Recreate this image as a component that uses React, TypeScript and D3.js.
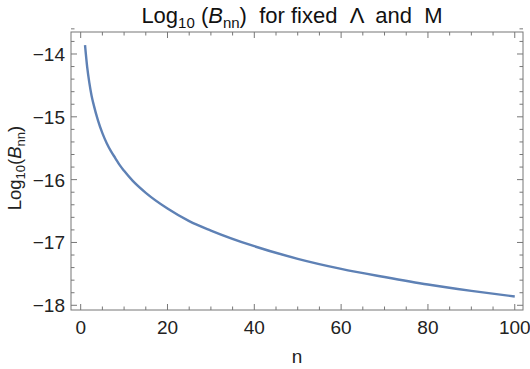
import React from "react";
import * as d3 from "d3";

const nValues = [1, 1.5, 2, 2.5, 3, 4, 5, 6, 7, 8, 9, 10, 12, 15, 20, 25, 30, 40, 50, 60, 70, 80, 90, 100];
const logB = [-13.86, -14.21, -14.46, -14.66, -14.81, -15.06, -15.26, -15.42, -15.55, -15.66, -15.77, -15.86, -16.02, -16.21, -16.46, -16.66, -16.81, -17.06, -17.26, -17.42, -17.55, -17.67, -17.77, -17.86];
const xTicks = [0, 20, 40, 60, 80, 100];
const yTicks = [-14, -15, -16, -17, -18];

const W = 530, H = 369;
const L = 71, R = 523, T = 32, B = 310;
const FONT = "'Liberation Sans', Arial, sans-serif";

export default function App() {
  const x = d3.scaleLinear().domain([-2.23, 101.9]).range([L, R]);
  const y = d3.scaleLinear().domain([-18.075, -13.65]).range([B, T]);
  const line = d3.line<number>().x((_, i) => x(nValues[i])).y((d) => y(d)).curve(d3.curveMonotoneX);
  const xMinor = d3.range(0, 101, 5);
  const yMinor = d3.range(-18, -13.5, 0.2).map((v) => Math.round(v * 10) / 10);
  const tc = "#777";
  const isMajorY = (v: number) => Math.abs(v - Math.round(v)) < 1e-6;
  return (
    <svg width={W} height={H} style={{ position: "absolute", left: 0, top: 0 }} fontFamily={FONT}>
      <rect width={W} height={H} fill="#fff" />
      {xMinor.map((v) => {
        const len = v % 20 === 0 ? 6 : 3.5;
        return (
          <g key={"x" + v} stroke={tc} strokeWidth={1}>
            <line x1={x(v)} x2={x(v)} y1={B} y2={B - len} />
            <line x1={x(v)} x2={x(v)} y1={T} y2={T + len} />
          </g>
        );
      })}
      {yMinor.map((v) => {
        const len = isMajorY(v) ? 6 : 3.5;
        return (
          <g key={"y" + v} stroke={tc} strokeWidth={1}>
            <line x1={L} x2={L + len} y1={y(v)} y2={y(v)} />
            <line x1={R} x2={R - len} y1={y(v)} y2={y(v)} />
          </g>
        );
      })}
      <rect x={L} y={T} width={R - L} height={B - T} fill="none" stroke={tc} strokeWidth={1} />
      <path d={line(logB) || ""} fill="none" stroke="#5E81B5" strokeWidth={2.4} />
      {xTicks.map((v) => (
        <text key={"xl" + v} x={x(v)} y={334} textAnchor="middle" fontSize={19} fill="#222">
          {v}
        </text>
      ))}
      {yTicks.map((v) => (
        <text key={"yl" + v} x={65} y={y(v) + 7} textAnchor="end" fontSize={19} fill="#222">
          {"\u2212" + Math.abs(v)}
        </text>
      ))}
      <text x={297} y={363} textAnchor="middle" fontSize={19} fill="#222">n</text>
      <text transform="translate(21,168) rotate(-90)" textAnchor="middle" fontSize={18.5} fill="#222">
        Log<tspan fontSize={13} dy={4}>10</tspan>
        <tspan dy={-4}>(</tspan>
        <tspan fontStyle="italic">B</tspan>
        <tspan fontSize={13} dy={4}>nn</tspan>
        <tspan dy={-4}>)</tspan>
      </text>
      <text x={292} y={23} textAnchor="middle" fontSize={22} fill="#111" style={{ whiteSpace: "pre" }}>
        Log<tspan fontSize={15} dy={5}>10</tspan>
        <tspan dy={-5}>{" ("}</tspan>
        <tspan fontStyle="italic">B</tspan>
        <tspan fontSize={15} dy={5}>nn</tspan>
        <tspan dy={-5}>{")  for fixed  Λ  and  M"}</tspan>
      </text>
    </svg>
  );
}
